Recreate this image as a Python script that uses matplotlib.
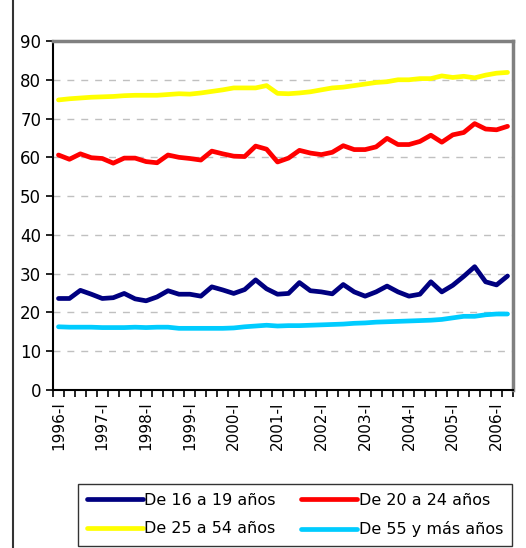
import numpy as np
import matplotlib
matplotlib.use('Agg')
import matplotlib.pyplot as plt
from matplotlib.lines import Line2D

# Quarterly series 1996-I .. 2006-II
years = list(range(1996, 2007))
quarters = [f'{y}-{q}' for y in years for q in ['I', 'II', 'III', 'IV']][:42]

age_16_19 = [23.6, 23.6, 25.7, 24.7, 23.6, 23.8, 24.9, 23.5, 23.0, 24.0,
             25.6, 24.7, 24.7, 24.2, 26.6, 25.8, 24.9, 25.9, 28.4, 26.1,
             24.7, 24.9, 27.7, 25.6, 25.3, 24.8, 27.2, 25.3, 24.2, 25.3,
             26.8, 25.3, 24.2, 24.7, 27.9, 25.3, 27.0, 29.3, 31.8, 27.9,
             27.1, 29.4]
age_20_24 = [60.6, 59.5, 60.9, 59.9, 59.7, 58.5, 59.8, 59.8, 58.9, 58.6,
             60.6, 60.0, 59.7, 59.3, 61.6, 60.9, 60.3, 60.2, 62.9, 62.1,
             58.8, 59.8, 61.8, 61.1, 60.7, 61.3, 63.0, 62.0, 62.0, 62.7,
             64.9, 63.3, 63.3, 64.1, 65.7, 63.9, 65.8, 66.4, 68.7, 67.3,
             67.1, 68.0]
age_25_54 = [74.8, 75.1, 75.3, 75.5, 75.6, 75.7, 75.9, 76.0, 76.0, 76.0,
             76.2, 76.4, 76.3, 76.6, 77.0, 77.4, 77.9, 77.9, 77.9, 78.5,
             76.5, 76.4, 76.6, 76.9, 77.4, 77.9, 78.1, 78.5, 78.9, 79.3,
             79.5, 80.0, 80.0, 80.3, 80.3, 81.0, 80.6, 80.9, 80.5, 81.2,
             81.7, 81.9]
age_55_plus = [16.3, 16.2, 16.2, 16.2, 16.1, 16.1, 16.1, 16.2, 16.1, 16.2,
               16.2, 15.9, 15.9, 15.9, 15.9, 15.9, 16.0, 16.3, 16.5, 16.7,
               16.5, 16.6, 16.6, 16.7, 16.8, 16.9, 17.0, 17.2, 17.3, 17.5,
               17.6, 17.7, 17.8, 17.9, 18.0, 18.2, 18.6, 19.0, 19.0, 19.4,
               19.6, 19.6]

series = [
    ('De 16 a 19 años', age_16_19, '#000080'),
    ('De 20 a 24 años', age_20_24, '#FF0000'),
    ('De 25 a 54 años', age_25_54, '#FFFF00'),
    ('De 55 y más años', age_55_plus, '#00CCFF'),
]

fig = plt.figure(figsize=(5.26, 5.48), dpi=100)
ax = fig.add_axes([53 / 526, 1 - 390 / 548, 460 / 526, 349 / 548])

x = np.arange(len(quarters))
lines = {}
for label, vals, color in series:
    ln, = ax.plot(x, vals, color=color, lw=3.4, label=label,
                  solid_joinstyle='round', solid_capstyle='round')
    lines[label] = ln

ax.set_xlim(-0.5, len(quarters) - 0.5)
ax.set_ylim(0, 90)
ax.set_yticks(range(0, 91, 10))
ax.tick_params(axis='y', labelsize=12, length=5, width=1.2, direction='out')

# grid lines dashed, skipping 0 and 90
for v in range(10, 90, 10):
    ax.axhline(v, color='#C0C0C0', lw=1, ls=(0, (5, 5)), zorder=0)

# ticks at category boundaries, labels at every first quarter
ax.set_xticks(np.arange(-0.5, len(quarters), 1.0))
ax.set_xticklabels([])
ax.tick_params(axis='x', length=5, width=1.2, direction='out')
ax.set_xticks(x[::4], minor=True)
ax.set_xticklabels(quarters[::4], minor=True, rotation=90, fontsize=11)
ax.tick_params(axis='x', which='minor', length=0, pad=8)

for s in ['left', 'bottom']:
    ax.spines[s].set_color('black')
    ax.spines[s].set_linewidth(1.5)
for s in ['top', 'right']:
    ax.spines[s].set_color('#808080')
    ax.spines[s].set_linewidth(2.5)

# legend filled row by row
order = ['De 16 a 19 años', 'De 25 a 54 años', 'De 20 a 24 años', 'De 55 y más años']
leg = fig.legend([lines[k] for k in order], order,
                 loc='upper left', bbox_to_anchor=(78 / 526, 1 - 484 / 548),
                 borderaxespad=0, ncol=2, fontsize=11.5, frameon=True,
                 fancybox=False, handlelength=3.5, handletextpad=0.1,
                 columnspacing=1.6, borderpad=0.55, labelspacing=0.85)
leg.get_frame().set_edgecolor('black')
leg.get_frame().set_linewidth(1)

# chart area border on the left
fig.add_artist(Line2D([13 / 526, 13 / 526], [0, 1], color='#333333', lw=1.5))

fig.savefig('out.png', dpi=100)
